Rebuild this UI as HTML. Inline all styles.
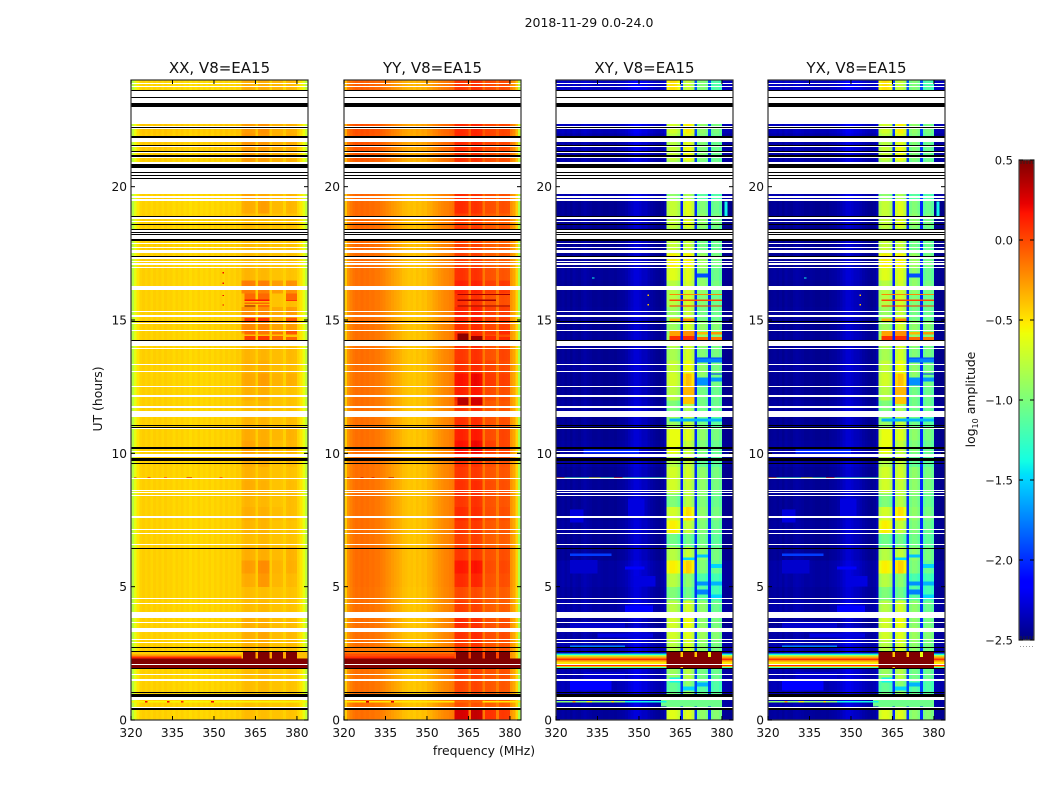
<!DOCTYPE html>
<html>
<head>
<meta charset="utf-8">
<title>2018-11-29 amplitude waterfall</title>
<style>
html,body{margin:0;padding:0;background:#fff;width:1050px;height:800px;overflow:hidden}
svg{display:block}
text{font-family:"DejaVu Sans","Liberation Sans",sans-serif;fill:#111}
</style>
</head>
<body>
<svg id="chart" xmlns="http://www.w3.org/2000/svg" width="1050" height="800" viewBox="0 0 1050 800">
<rect x="0" y="0" width="1050" height="800" fill="#fff"/>
<text x="589" y="27" font-size="12.5" text-anchor="middle">2018-11-29 0.0-24.0</text>
<text x="484" y="755" font-size="12.4" text-anchor="middle">frequency (MHz)</text>
<text x="102" y="399" font-size="12.4" text-anchor="middle" transform="rotate(-90 102 399)">UT (hours)</text>
<text x="975" y="399.5" font-size="12.4" text-anchor="middle" transform="rotate(-90 975 399.5)">log<tspan font-size="8" dy="3">10</tspan><tspan dy="-3"> amplitude</tspan></text>
</svg>
<script>
// ---- axis data ----
const freqTicks = [320,335,350,365,380];
const timeTicks = [0,5,10,15,20];
const cbarTicks = [-2.5,-2.0,-1.5,-1.0,-0.5,0.0,0.5];
const subBandFirstChannel = [40,46,51,56];
const subBandLastChannel = [44,49,54,59];

// ---- spectra: log10 amplitude per 1 MHz channel, 320..383 MHz ----
const xxSpectrum = [-0.78,-0.62,-0.5,-0.44,-0.42,-0.44,-0.42,-0.45,-0.42,-0.44,-0.42,-0.45,-0.42,-0.44,-0.43,-0.46,-0.43,-0.45,-0.43,-0.46,-0.44,-0.47,-0.44,-0.46,-0.43,-0.46,-0.44,-0.46,-0.43,-0.46,-0.43,-0.45,-0.42,-0.45,-0.42,-0.44,-0.42,-0.44,-0.41,-0.42,-0.38,-0.36,-0.36,-0.37,-0.38,-0.42,-0.38,-0.37,-0.37,-0.38,-0.42,-0.39,-0.39,-0.39,-0.40,-0.43,-0.39,-0.38,-0.39,-0.40,-0.44,-0.5,-0.6,-0.75];
const yySpectrum = [-0.42,-0.24,-0.18,-0.14,-0.12,-0.13,-0.11,-0.13,-0.12,-0.14,-0.13,-0.15,-0.15,-0.17,-0.19,-0.22,-0.24,-0.27,-0.29,-0.31,-0.34,-0.37,-0.38,-0.4,-0.39,-0.41,-0.38,-0.4,-0.37,-0.38,-0.34,-0.33,-0.29,-0.27,-0.24,-0.22,-0.2,-0.19,-0.17,-0.15,-0.03,-0.02,-0.02,-0.03,-0.05,-0.14,-0.03,-0.02,-0.03,-0.05,-0.15,-0.06,-0.06,-0.07,-0.08,-0.16,-0.07,-0.06,-0.07,-0.08,-0.24,-0.3,-0.45,-0.82];
const xySpectrum = [-2.45,-2.44,-2.42,-2.45,-2.43,-2.46,-2.42,-2.44,-2.45,-2.42,-2.4,-2.42,-2.43,-2.45,-2.45,-2.44,-2.45,-2.46,-2.46,-2.45,-2.45,-2.46,-2.44,-2.43,-2.42,-2.4,-2.36,-2.32,-2.28,-2.28,-2.3,-2.34,-2.34,-2.38,-2.41,-2.43,-2.45,-2.46,-2.44,-2.38,-0.95,-0.88,-0.88,-0.9,-0.98,-2.05,-0.9,-0.82,-0.84,-0.95,-2.0,-1.08,-1.02,-1.02,-1.1,-2.02,-1.12,-1.05,-1.05,-1.12,-2.45,-2.46,-2.47,-2.47];
const yxSpectrum = [-2.45,-2.44,-2.43,-2.45,-2.43,-2.46,-2.42,-2.44,-2.45,-2.42,-2.41,-2.42,-2.43,-2.45,-2.45,-2.44,-2.45,-2.46,-2.46,-2.45,-2.45,-2.46,-2.44,-2.43,-2.42,-2.4,-2.37,-2.33,-2.29,-2.29,-2.31,-2.34,-2.35,-2.38,-2.41,-2.43,-2.45,-2.46,-2.44,-2.38,-0.96,-0.89,-0.88,-0.9,-0.98,-2.05,-0.9,-0.83,-0.84,-0.95,-2.0,-1.08,-1.02,-1.03,-1.1,-2.02,-1.12,-1.05,-1.06,-1.12,-2.45,-2.46,-2.47,-2.47];

// ---- per half-hour offsets, t = 0..23.5 h ----
const xxWideBlocks = [0,0,0,0,0,0,0,0,0,0,0,0,0,0,0,0,0,0,0,0,0,0,0,0,0,0,0,0,0,0,0,0,0,0,0,0,0,0,-0.01,0,0,0,0.02,0.02,0.03,0,0,-0.02];
const yyWideBlocks = [0,0,0,0,0,0,0,0,0,0,0.01,0.01,0.01,0,0,0,0,0,0,0,0,0,0,0,0,0,0,0,0,0,0,0,0,0,0.01,0.02,0.02,0.02,0.02,0.03,0.05,0.05,0.08,0.09,0.1,0.05,0.05,0.05];
const crossWideBlocks = [0.02,0.06,0.08,0.06,0.02,0.06,0.04,0,0.05,0.02,0.04,0.04,0,0,0.02,0,0,0.01,0,0.03,0.02,0,0,0.02,0,0,0.02,0,0.01,0,0.01,0,0,0.02,0,0,-0.02,0,0,0.06,0.05,0.05,0.06,0.05,0.1,0.02,0.02,0.12];

const xxBand1Blocks = [0,-0.02,0,0,0,0.03,0.04,0.04,0,0,0.05,0.1,0.04,0,0.02,0.04,0.02,0.05,0.03,0.04,0.08,0.05,0.02,0,0.03,0.06,0.03,0.02,0,0.16,0.14,0.02,0.2,0.02,0,0,0,0,0.05,0.08,0.08,0.08,0.1,0.12,0.1,0,0,0.04];
const xxBand2Blocks = [0,-0.02,0.02,0.02,0,0.05,0.08,0.05,0.02,0,0.12,0.16,0.05,0.02,0.03,0.04,0.02,0.04,0.02,0.05,0.06,0.05,0.03,0.02,0.05,0.1,0.05,0.03,0,0.18,0.16,0.03,0.2,0.02,0,0,0,0,0.1,0.06,0.08,0.08,0.1,0.12,0.14,0,0,0.05];
const xxBand3Blocks = [0,-0.02,0,0,0,0,0.02,0.02,0,0,0.04,0.05,0.03,0,0,0.02,0,0,0,0,0.02,0.04,0,0,0,0.05,0.02,0.02,0,0.1,0.08,0,0.12,0,0,0,0,0,0.03,0.03,0.05,0.05,0.06,0.06,0.06,0,0,0.04];
const xxBand4Blocks = [0,-0.02,0,0,0,0.02,0.03,0.02,0,0,0.03,0.06,0.05,0,0,0.02,0.02,0.02,0,0.02,0.04,0.05,0.02,0,0,0.06,0.02,0.03,0,0.12,0.12,0.02,0.16,0,0,0,0,0,0.04,0.04,0.05,0.05,0.06,0.07,0.06,0,0,0.03];

const yyBand1Blocks = [0.3,0,0.03,0.05,0,0.06,0.1,0.12,0.06,0.02,0.12,0.18,0.08,0.05,0.08,0.12,0.08,0.1,0.08,0.1,0.2,0.15,0.1,0.08,0.15,0.2,0.1,0.08,0.12,0.1,0.14,0.1,0.15,0.1,0.05,0.05,0.08,0.05,0.12,0.12,0.08,0.08,0.1,0.12,0.12,0,0,0.08];
const yyBand2Blocks = [0.35,0,0.04,0.06,0,0.1,0.12,0.1,0.05,0.02,0.14,0.2,0.08,0.06,0.08,0.12,0.1,0.12,0.08,0.1,0.24,0.18,0.12,0.1,0.18,0.24,0.12,0.1,0.14,0.12,0.16,0.1,0.15,0.1,0.05,0.05,0.08,0.05,0.1,0.1,0.08,0.08,0.1,0.14,0.14,0,0,0.1];
const yyBand3Blocks = [0.14,0,0.02,0.04,0,0.03,0.05,0.04,0,0,0.04,0.06,0.04,0,0.02,0.05,0.04,0.06,0.03,0.05,0.1,0.06,0.04,0.02,0.06,0.12,0.08,0.04,0.06,0.08,0.1,0.04,0.1,0.04,0,0,0.02,0,0.05,0.05,0.04,0.04,0.06,0.08,0.08,0,0,0.06];
const yyBand4Blocks = [0.12,0,0.02,0.04,0,0.03,0.06,0.05,0,0,0.05,0.07,0.05,0,0.02,0.05,0.03,0.05,0.03,0.04,0.08,0.08,0.05,0.02,0.05,0.1,0.06,0.08,0.05,0.1,0.1,0.05,0.12,0.03,0,0,0.02,0,0.05,0.05,0.04,0.04,0.06,0.08,0.08,0,0,0.06];

const crossBand1Blocks = [0.25,-0.1,-0.2,0,0.1,0.1,0.2,0.2,0.1,-0.1,0.1,0.35,0.1,-0.15,0.35,0.2,-0.1,0.2,0.2,0.1,0.3,0.25,0,-0.1,0.1,0.2,0.15,0.05,0.1,0,0,0.1,0.1,0.25,0.35,0.15,0.1,0.15,0.15,-0.05,0,0.05,0.15,0.1,0.2,0,0,0.4];
const crossBand2Blocks = [0.2,-0.05,-0.1,0.05,0.1,0.15,0.2,0.25,0.15,-0.2,-0.1,0.4,0.1,-0.2,0.1,0.35,0.05,0.1,0.15,0.1,0.1,0.2,0.1,0,0.2,0.45,0.25,0.15,0.15,0.15,0.1,0.15,0.15,0.2,0.3,0.1,0.1,0.2,0.2,0,0,0.1,0.25,0.2,0.3,0,0,0.1];
const crossBand3Blocks = [0.1,0,-0.1,0,0.1,0.1,0.15,0.1,0.1,-0.1,-0.15,0.05,0.1,0,0.05,0.1,0.05,0.1,0.1,-0.05,0.05,0.1,0,0,0,0.1,0.1,0.05,0.1,0.1,0,0.05,0.1,0.1,0.15,0,0.05,0.1,0.05,-0.1,0,0,0.05,0.05,0.1,0,0,0.05];
const crossBand4Blocks = [0.1,0,-0.1,0,0.05,0.05,0.1,0.05,0,-0.15,-0.15,0,0.05,-0.05,0,0.05,0,0.05,0.05,-0.05,0,0.05,-0.05,0,0,0.05,0.05,0.05,0.05,0.1,0,0,0.05,0,0.05,0,0,0.05,0,-0.1,0,0,0,0,0.05,0,0,-0.1];

// ---- localised events: [tStart h, tEnd h, fStart MHz, fEnd MHz, log10 amplitude] ----
const xxEvents = [
 [2.45,2.56,320,360,-0.42],[2.38,2.45,320,360,-0.25],[2.31,2.38,320,360,0.1],[1.94,2.31,320,384,0.5],
 [1.92,2.55,360.5,380,0.5],[2.3,2.55,365,366,-0.3],[2.3,2.55,370,371,-0.3],[2.3,2.55,375,376,-0.3],[2.3,2.55,380,384,-0.38],
 [0.66,0.71,320,384,-0.55],[0.66,0.71,325,326,0.2],[0.66,0.71,333,334,0.2],[0.66,0.71,338,339,0.1],[0.66,0.71,349,350,0.2],
 [14.25,14.4,361,365,0.03],[14.25,14.4,366,370,0.05],[14.25,14.4,371,375,-0.1],[14.25,14.36,376,380,-0.1],[14.45,14.6,361,365,-0.1],[14.45,14.6,366,370,-0.15],[14.45,14.55,371,375,-0.15],[14.45,14.6,376,380,-0.05],
 [14.97,15.07,361,365,0.06],[14.97,15.07,366,370,0.06],[14.97,15.07,376,380,-0.05],
 [15.75,16.0,361,365,-0.1],[15.75,16.0,366,370,-0.1],[15.72,15.76,361,370,0.15],[15.72,15.76,376,380,0.05],[15.75,16.0,376,380,-0.1],[15.5,15.54,361,365,0.45],[15.5,15.54,366,370,0.15],[15.6,15.66,361,370,-0.1],
 [15.55,15.58,353,353.7,0.2],[15.9,15.94,353,353.7,0.2],[16.35,16.4,353,353.7,0.2],[16.75,16.8,353,353.7,0.2],
 [9.06,9.1,326,327,0.2],[9.06,9.1,340,342,0.3],[9.06,9.1,321,322,0.2],[9.06,9.1,352,353,0.2],[9.06,9.1,332,333,0.1]
];
const yyEvents = [
 [2.5,2.7,320,360,-0.15],[2.38,2.5,320,360,-0.02],[2.31,2.38,320,360,0.1],[1.94,2.31,320,384,0.5],
 [1.92,2.55,360.5,380,0.5],[2.3,2.55,365,366,0.0],[2.3,2.55,370,371,0.0],[2.3,2.55,375,376,0.0],
 [0.38,0.46,320,384,-0.3],[0.66,0.71,320,384,-0.5],[0.66,0.71,328,329,0.3],[0.66,0.71,337,338,0.25],[0.66,0.71,360,370,-0.1],
 [14.25,14.5,361,365,0.47],[14.25,14.4,366,370,0.42],[14.25,14.4,371,375,0.1],[14.25,14.36,376,380,0.1],[14.45,14.6,371,375,0.05],[14.45,14.6,376,380,0.1],
 [15.93,15.97,361,380,0.4],[15.72,15.76,361,375,0.4],[15.5,15.54,361,380,0.42],
 [11.82,12.1,361,365,0.35],[11.82,12.1,366,370,0.28],
 [9.06,9.1,326,327,0.3],[9.06,9.1,330,331,0.3],[9.06,9.1,336,338,0.35],[9.06,9.1,321,322,0.3]
];
const crossEvents = [
 [0.5,0.86,358,380,-1.05],[0.66,0.71,320,345,-0.95],[0.66,0.71,345,360,-1.4],[0.66,0.71,326,327,-0.3],[0.66,0.71,331,333,-0.6],[0.66,0.71,340,341,-0.5],
 [1.1,1.5,325,340,-2.15],[1.5,1.8,330,345,-2.3],[2.73,2.8,325,345,-1.75],[3.1,3.25,335,355,-2.25],[3.4,3.7,325,345,-2.3],[4.0,4.3,345,355,-2.15],[5.0,5.4,348,356,-2.25],[5.5,6.0,325,335,-2.3],[6.15,6.25,325,340,-1.95],[5.65,5.75,345,352,-2.15],[7.4,7.9,325,330,-2.25],[7.6,8.3,346,352,-2.25],
 [2.44,2.5,320,384,-1.4],[2.375,2.44,320,384,-0.8],[2.31,2.375,320,384,-0.3],[2.25,2.31,320,384,0.1],[2.19,2.25,320,384,-0.2],[2.1,2.19,320,384,-0.5],[2.03,2.1,320,384,0.1],[1.98,2.03,320,384,-0.4],[1.93,1.98,320,384,-1.2],
 [1.92,2.55,360,380,0.5],[2.36,2.55,365,366,-0.4],[2.36,2.55,370,371,-0.4],[2.36,2.55,375,376,-0.6],[1.92,1.98,365,366,-0.4],
 [9.06,9.1,320,360,-1.2],[9.06,9.1,320,323,-0.1],[9.06,9.1,332,336,-0.6],[9.06,9.1,341,344,0.05],
 [14.25,14.4,361,365,0.08],[14.25,14.4,366,370,0.1],[14.25,14.36,371,375,-0.1],[14.25,14.36,376,380,-0.15],[14.4,14.6,361,365,-0.28],[14.4,14.6,366,370,-0.22],[14.45,14.55,371,375,-0.35],[14.45,14.55,376,380,-0.25],
 [14.97,15.06,361,365,-0.35],[14.97,15.06,366,370,-0.2],[15.93,15.97,361,380,-0.2],[15.72,15.76,361,380,0.0],[15.5,15.54,361,380,0.1],
 [12.05,12.5,366,370,-0.35],[11.85,12.1,366,370,-0.4],[12.95,13.0,376,380,-2.0],[13.55,13.6,371,380,-1.95],
 [18.8,19.45,381,382,-1.4],[15.55,15.6,353,353.7,-0.4],[15.9,15.95,353,353.7,-0.4],[16.55,16.6,333,334,-1.4],
 [10.0,10.15,330,350,-2.0],
 [5.05,5.2,371,375,-1.7],[5.05,5.2,376,380,-1.6],[4.7,4.9,371,375,-1.75],[4.55,4.7,376,380,-1.5],[5.7,5.85,376,380,-1.5],[6.0,6.1,366,370,-1.5],[6.1,6.2,371,375,-1.55],
 [1.1,1.25,366,370,-1.5],[1.25,1.4,371,375,-1.6],[1.4,1.6,361,365,-1.4],
 [13.4,13.55,371,380,-1.75],[12.55,12.85,371,375,-1.7],[12.7,12.85,376,380,-1.7],[11.2,11.3,361,380,-1.6],[10.3,10.9,361,365,-0.6],[16.6,16.75,371,375,-1.9]
];

// ---- flagged intervals (hours) ----
const whiteGaps = [[23.87,23.9],[23.75,23.79],[23.37,23.6],[23.15,23.34],[22.35,23.0],[22.23,22.28],[22.16,22.2],[21.69,21.84],[21.48,21.53],[21.25,21.3],[21.07,21.12],[20.85,20.94],[20.54,20.71],[20.44,20.5],[20.34,20.41],[19.73,20.3],[19.62,19.66],[19.56,19.6],[19.46,19.53],[18.79,18.88],[18.68,18.71],[18.3,18.36],[18.21,18.26],[18.04,18.18],[17.85,17.88],[17.7,17.74],[17.52,17.63],[17.28,17.36],[17.18,17.23],[17.08,17.13],[16.96,17.0],[16.13,16.28],[15.29,15.33],[15.11,15.19],[14.85,14.89],[14.59,14.63],[14.02,14.2],[13.91,13.96],[13.3,13.34],[13.05,13.09],[12.48,12.51],[12.11,12.18],[11.7,11.78],[11.36,11.59],[10.91,10.95],[10.05,10.09],[9.85,9.98],[9.03,9.06],[8.59,8.63],[8.51,8.55],[8.41,8.45],[7.58,7.65],[7.13,7.16],[6.99,7.02],[6.56,6.6],[4.53,4.56],[4.35,4.37],[3.83,4.05],[3.64,3.68],[3.3,3.45],[2.99,3.03],[2.9,2.93],[2.06,2.1],[1.67,1.71],[1.46,1.53],[0.76,0.86],[0.46,0.5]];
const blackGaps = [[23.6,23.63],[23.34,23.36],[23.0,23.15],[22.2,22.23],[21.84,21.9],[21.53,21.56],[21.3,21.34],[21.12,21.18],[20.71,20.85],[20.5,20.54],[20.41,20.44],[20.3,20.34],[18.88,18.9],[18.58,18.6],[18.36,18.4],[18.26,18.3],[18.18,18.21],[17.97,18.04],[17.36,17.39],[14.94,14.97],[14.21,14.25],[11.01,11.05],[10.96,11.0],[10.15,10.22],[9.72,9.84],[9.61,9.65],[6.42,6.45],[2.7,2.74],[2.56,2.6],[1.91,1.95],[1.0,1.04],[0.86,0.98],[0.375,0.46]];

// ---- panel titles ----
const panelTitles = ["XX, V8=EA15","YY, V8=EA15","XY, V8=EA15","YX, V8=EA15"];
const panelSlugs = ["xx","yy","xy","yx"];
const panelSpectra = [xxSpectrum,yySpectrum,xySpectrum,yxSpectrum];
const panelWide = [xxWideBlocks,yyWideBlocks,crossWideBlocks,crossWideBlocks];
const panelBands = [
 [xxBand1Blocks,xxBand2Blocks,xxBand3Blocks,xxBand4Blocks],
 [yyBand1Blocks,yyBand2Blocks,yyBand3Blocks,yyBand4Blocks],
 [crossBand1Blocks,crossBand2Blocks,crossBand3Blocks,crossBand4Blocks],
 [crossBand1Blocks,crossBand2Blocks,crossBand3Blocks,crossBand4Blocks]
];
const panelEvents = [xxEvents,yyEvents,crossEvents,crossEvents];

// ---- layout ----
const panelLeft = [131,344,556,768];
const panelWidth = 177;
const plotTop = 80, plotBottom = 720;
const freqMin = 320, freqMax = 384, timeMin = 0, timeMax = 24, ampMin = -2.5, ampMax = 0.5;
const NS = "http://www.w3.org/2000/svg";
const svg = document.getElementById("chart");

function make(tag, attrs, parent){
  const e = document.createElementNS(NS, tag);
  for (const k in attrs) e.setAttribute(k, attrs[k]);
  (parent || svg).appendChild(e);
  return e;
}
function xOf(i, f){ return panelLeft[i] + (f - freqMin) * panelWidth / (freqMax - freqMin); }
function yOf(t){ return plotBottom - (t - timeMin) * (plotBottom - plotTop) / (timeMax - timeMin); }
function ramp(f, pts){
  for (let i = 1; i < pts.length; i++){
    if (f <= pts[i][0]){
      const a = pts[i-1], b = pts[i];
      return a[1] + (b[1]-a[1]) * (f-a[0]) / (b[0]-a[0]);
    }
  }
  return pts[pts.length-1][1];
}
function jet(v){
  const f = Math.max(0, Math.min(1, (v - ampMin) / (ampMax - ampMin)));
  const r = ramp(f, [[0,0],[0.35,0],[0.66,1],[0.89,1],[1,0.5]]);
  const g = ramp(f, [[0,0],[0.125,0],[0.375,1],[0.64,1],[0.91,0],[1,0]]);
  const b = ramp(f, [[0,0.5],[0.11,1],[0.34,1],[0.65,0],[1,0]]);
  return "rgb(" + Math.round(r*255) + "," + Math.round(g*255) + "," + Math.round(b*255) + ")";
}
function bandOf(ch){
  for (let s = 0; s < subBandFirstChannel.length; s++){
    if (ch >= subBandFirstChannel[s] && ch <= subBandLastChannel[s]) return s;
  }
  return -1;
}
function cellValue(p, row, ch){
  const s = bandOf(ch);
  if (s >= 0) return panelSpectra[p][ch] + panelBands[p][s][row];
  return panelSpectra[p][ch] + panelWide[p][row];
}
function gapRect(p, gap, colour, parent){
  const top = Math.round(yOf(gap[1]));
  const bottom = Math.round(yOf(gap[0]));
  return make("rect", {x:panelLeft[p], y:top, width:panelWidth, height:Math.max(1,bottom-top), fill:colour}, parent);
}

panelTitles.forEach(function(title, p){
  const g = make("g", {});
  
  

  const heat = make("g", {"shape-rendering":"crispEdges"}, g);
  
  

  const rows = xxWideBlocks.length;
  const channels = xxSpectrum.length;
  for (let r = 0; r < rows; r++){
    const t0 = timeMin + r * (timeMax - timeMin) / rows;
    const t1 = timeMin + (r + 1) * (timeMax - timeMin) / rows;
    for (let c = 0; c < channels; c++){
      const f0 = freqMin + c * (freqMax - freqMin) / channels;
      const f1 = freqMin + (c + 1) * (freqMax - freqMin) / channels;
      const cell = make("rect", {x:xOf(p,f0).toFixed(2), y:yOf(t1).toFixed(2), width:(xOf(p,f1)-xOf(p,f0)+0.3).toFixed(2), height:(yOf(t0)-yOf(t1)+0.3).toFixed(2), fill:jet(cellValue(p,r,c))}, heat);
      
      
    }
  }

  panelEvents[p].forEach(function(ev){
    const mark = make("rect", {x:xOf(p,ev[2]).toFixed(2), y:yOf(ev[1]).toFixed(2), width:(xOf(p,ev[3])-xOf(p,ev[2])).toFixed(2), height:(yOf(ev[0])-yOf(ev[1])).toFixed(2), fill:jet(ev[4])}, heat);
    
    
  });

  whiteGaps.forEach(function(gap){
    const mark = gapRect(p, gap, "#fff", heat);
    
    
  });
  blackGaps.forEach(function(gap){
    const mark = gapRect(p, gap, "#000", heat);
    
    
  });

  const frame = make("rect", {x:panelLeft[p], y:plotTop, width:panelWidth, height:plotBottom-plotTop, fill:"none", stroke:"#333", "stroke-width":1.2}, g);
  
  

  const head = make("text", {x:panelLeft[p]+panelWidth/2, y:73, "font-size":15, "text-anchor":"middle"}, g);
  head.textContent = title;
  
  

  freqTicks.forEach(function(f){
    const x = xOf(p,f);
    const lo = make("line", {x1:x, x2:x, y1:plotBottom, y2:plotBottom-4, stroke:"#000", "stroke-width":1}, g);
    
    
    const hi = make("line", {x1:x, x2:x, y1:plotTop, y2:plotTop+4, stroke:"#000", "stroke-width":1}, g);
    
    
    const lab = make("text", {x:x, y:737, "font-size":12.2, "text-anchor":"middle"}, g);
    lab.textContent = String(f);
    
    
  });
  timeTicks.forEach(function(t){
    const y = yOf(t);
    const lo = make("line", {x1:panelLeft[p], x2:panelLeft[p]+4, y1:y, y2:y, stroke:"#000", "stroke-width":1}, g);
    
    
    const hi = make("line", {x1:panelLeft[p]+panelWidth, x2:panelLeft[p]+panelWidth-4, y1:y, y2:y, stroke:"#000", "stroke-width":1}, g);
    
    
    const lab = make("text", {x:panelLeft[p]-4, y:y+4.5, "font-size":12.2, "text-anchor":"end"}, g);
    lab.textContent = String(t);
    
    
  });
});

// ---- colorbar ----
const cbarLeft = 1019, cbarWidth = 15, cbarTop = 160, cbarBottom = 640;
function cbarY(v){ return cbarBottom - (v - ampMin) * (cbarBottom - cbarTop) / (ampMax - ampMin); }
const cbar = make("g", {});


const cbarRamp = make("g", {"shape-rendering":"crispEdges"}, cbar);


for (let i = 0; i < 240; i++){
  const v0 = ampMin + i * (ampMax - ampMin) / 240;
  const v1 = ampMin + (i + 1) * (ampMax - ampMin) / 240;
  const s = make("rect", {x:cbarLeft, y:cbarY(v1), width:cbarWidth, height:cbarY(v0)-cbarY(v1)+0.5, fill:jet((v0+v1)/2)}, cbarRamp);
  
  
}
const cbarFrame = make("rect", {x:cbarLeft, y:cbarTop, width:cbarWidth, height:cbarBottom-cbarTop, fill:"none", stroke:"#444", "stroke-width":1.2}, cbar);


cbarTicks.forEach(function(v){
  const y = cbarY(v);
  const a = make("line", {x1:cbarLeft, x2:cbarLeft+4, y1:y, y2:y, stroke:"#000", "stroke-width":1}, cbar);
  
  
  const b = make("line", {x1:cbarLeft+cbarWidth, x2:cbarLeft+cbarWidth-4, y1:y, y2:y, stroke:"#000", "stroke-width":1}, cbar);
  
  
  const lab = make("text", {x:1013, y:y+4.5, "font-size":11.5, "text-anchor":"end"}, cbar);
  lab.textContent = (v < 0 ? "\u2212" : "") + Math.abs(v).toFixed(1);
  
  
});
for (let k = 0; k < 5; k++){
  const x = cbarLeft + 2 + k * 3;
  const a = make("line", {x1:x, x2:x, y1:cbarTop, y2:cbarTop+4, stroke:"#222", "stroke-width":0.8}, cbar);
  
  
  const b = make("line", {x1:x, x2:x, y1:cbarBottom, y2:cbarBottom-4, stroke:"#222", "stroke-width":0.8}, cbar);
  
  
  const d = make("rect", {x:x-1, y:646, width:1, height:1, fill:"#999"}, cbar);
  
  
}
</script>
</body>
</html>
